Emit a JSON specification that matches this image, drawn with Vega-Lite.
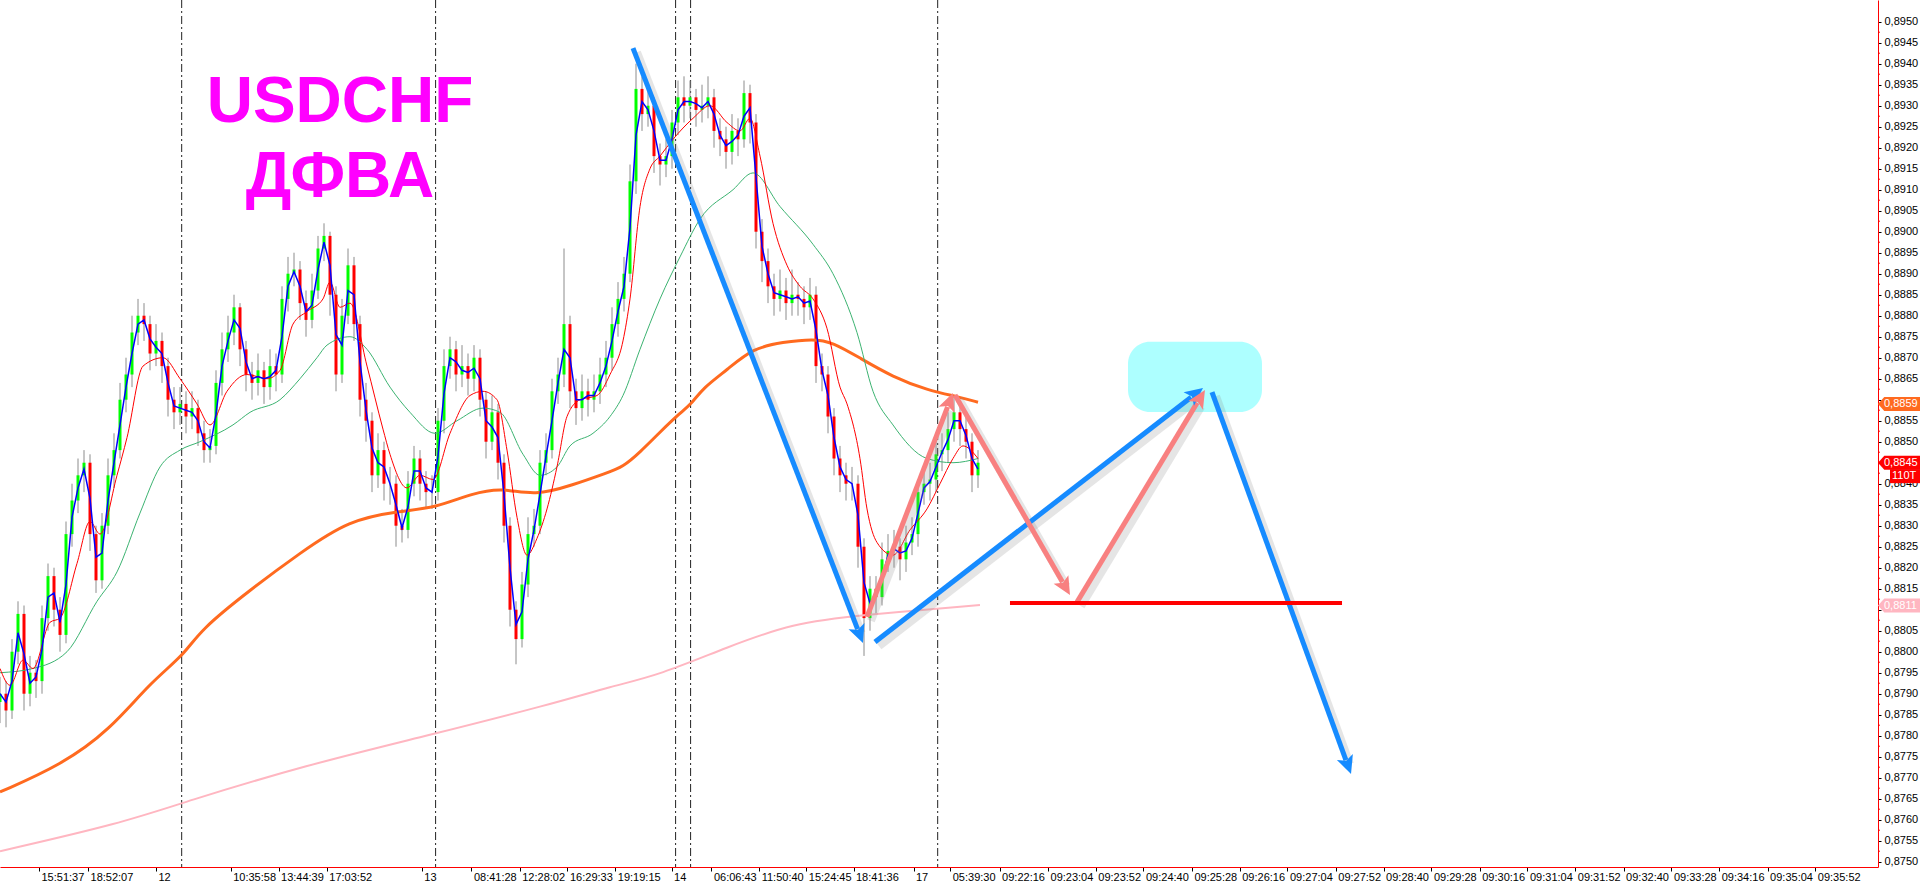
{
"$schema":"https://vega.github.io/schema/vega-lite/v6.json",
"width":1878,"height":867,
"autosize":{"type":"none"},
"padding":{"left":0,"top":0,"right":42,"bottom":20},
"background":"#FFFFFF",
"config":{"view":{"stroke":null},"font":"Liberation Sans"},
"datasets":{
"bars":[
{"x":0,"o":0.8788,"h":0.8794,"l":0.8783,"c":0.8790,"b":0.8790},
{"x":1,"o":0.8790,"h":0.8793,"l":0.8782,"c":0.8786,"b":0.8788},
{"x":2,"o":0.8786,"h":0.8803,"l":0.8784,"c":0.8800,"b":0.8793},
{"x":3,"o":0.8800,"h":0.8812,"l":0.8797,"c":0.8809,"b":0.88045},
{"x":4,"o":0.8809,"h":0.8811,"l":0.8786,"c":0.8790,"b":0.87995},
{"x":5,"o":0.8790,"h":0.8799,"l":0.8787,"c":0.8795,"b":0.87925},
{"x":6,"o":0.8795,"h":0.8798,"l":0.8789,"c":0.8793,"b":0.8794},
{"x":7,"o":0.8793,"h":0.8811,"l":0.8790,"c":0.8808,"b":0.88005},
{"x":8,"o":0.8808,"h":0.8821,"l":0.8805,"c":0.8818,"b":0.8813},
{"x":9,"o":0.8818,"h":0.8820,"l":0.8806,"c":0.8810,"b":0.8814},
{"x":10,"o":0.8810,"h":0.8813,"l":0.8800,"c":0.8804,"b":0.8807},
{"x":11,"o":0.8804,"h":0.8831,"l":0.8802,"c":0.8828,"b":0.8816},
{"x":12,"o":0.8828,"h":0.8840,"l":0.8825,"c":0.8836,"b":0.8832},
{"x":13,"o":0.8836,"h":0.8846,"l":0.8833,"c":0.8842,"b":0.8839},
{"x":14,"o":0.8842,"h":0.8848,"l":0.8838,"c":0.8845,"b":0.88435},
{"x":15,"o":0.8845,"h":0.8847,"l":0.8824,"c":0.8828,"b":0.88365},
{"x":16,"o":0.8828,"h":0.8830,"l":0.8814,"c":0.8817,"b":0.88225},
{"x":17,"o":0.8817,"h":0.8833,"l":0.8815,"c":0.8830,"b":0.88235},
{"x":18,"o":0.8830,"h":0.8846,"l":0.8828,"c":0.8842,"b":0.8836},
{"x":19,"o":0.8842,"h":0.8852,"l":0.8839,"c":0.8848,"b":0.8845},
{"x":20,"o":0.8848,"h":0.8864,"l":0.8846,"c":0.8860,"b":0.8854},
{"x":21,"o":0.8860,"h":0.8870,"l":0.8857,"c":0.8866,"b":0.8863},
{"x":22,"o":0.8866,"h":0.8880,"l":0.8863,"c":0.8876,"b":0.8871},
{"x":23,"o":0.8876,"h":0.8884,"l":0.8873,"c":0.8880,"b":0.8878},
{"x":24,"o":0.8880,"h":0.8883,"l":0.8874,"c":0.8878,"b":0.8879},
{"x":25,"o":0.8878,"h":0.8880,"l":0.8867,"c":0.8871,"b":0.88745},
{"x":26,"o":0.8871,"h":0.8878,"l":0.8868,"c":0.8874,"b":0.88725},
{"x":27,"o":0.8874,"h":0.8876,"l":0.8864,"c":0.8868,"b":0.8871},
{"x":28,"o":0.8868,"h":0.8870,"l":0.8856,"c":0.8860,"b":0.8864},
{"x":29,"o":0.8860,"h":0.8863,"l":0.8853,"c":0.8857,"b":0.88585},
{"x":30,"o":0.8857,"h":0.8863,"l":0.8854,"c":0.8859,"b":0.8858},
{"x":31,"o":0.8859,"h":0.8862,"l":0.8852,"c":0.8856,"b":0.88575},
{"x":32,"o":0.8856,"h":0.8862,"l":0.8853,"c":0.8858,"b":0.8857},
{"x":33,"o":0.8858,"h":0.8860,"l":0.8849,"c":0.8852,"b":0.8855},
{"x":34,"o":0.8852,"h":0.8855,"l":0.8845,"c":0.8848,"b":0.8850},
{"x":35,"o":0.8848,"h":0.8853,"l":0.8845,"c":0.8849,"b":0.88485},
{"x":36,"o":0.8849,"h":0.8867,"l":0.8847,"c":0.8864,"b":0.88565},
{"x":37,"o":0.8864,"h":0.8876,"l":0.8861,"c":0.8872,"b":0.8868},
{"x":38,"o":0.8872,"h":0.8880,"l":0.8869,"c":0.8876,"b":0.8874},
{"x":39,"o":0.8876,"h":0.8885,"l":0.8873,"c":0.8882,"b":0.8879},
{"x":40,"o":0.8882,"h":0.8883,"l":0.8868,"c":0.8872,"b":0.8877},
{"x":41,"o":0.8872,"h":0.8874,"l":0.8862,"c":0.8866,"b":0.8869},
{"x":42,"o":0.8866,"h":0.8869,"l":0.8860,"c":0.8864,"b":0.8865},
{"x":43,"o":0.8864,"h":0.8871,"l":0.8861,"c":0.8867,"b":0.88655},
{"x":44,"o":0.8867,"h":0.8869,"l":0.8859,"c":0.8863,"b":0.8865},
{"x":45,"o":0.8863,"h":0.8872,"l":0.8860,"c":0.8868,"b":0.88655},
{"x":46,"o":0.8868,"h":0.8871,"l":0.8862,"c":0.8866,"b":0.8867},
{"x":47,"o":0.8866,"h":0.8887,"l":0.8864,"c":0.8884,"b":0.8875},
{"x":48,"o":0.8884,"h":0.8894,"l":0.8881,"c":0.8890,"b":0.8887},
{"x":49,"o":0.8890,"h":0.8895,"l":0.8887,"c":0.8891,"b":0.88905},
{"x":50,"o":0.8891,"h":0.8893,"l":0.8879,"c":0.8883,"b":0.8887},
{"x":51,"o":0.8883,"h":0.8886,"l":0.8875,"c":0.8879,"b":0.8881},
{"x":52,"o":0.8879,"h":0.8890,"l":0.8877,"c":0.8886,"b":0.88825},
{"x":53,"o":0.8886,"h":0.8899,"l":0.8884,"c":0.8896,"b":0.8891},
{"x":54,"o":0.8896,"h":0.8902,"l":0.8893,"c":0.8899,"b":0.88975},
{"x":55,"o":0.8899,"h":0.8900,"l":0.8880,"c":0.8885,"b":0.8892},
{"x":56,"o":0.8885,"h":0.8887,"l":0.8862,"c":0.8866,"b":0.88755},
{"x":57,"o":0.8866,"h":0.8884,"l":0.8864,"c":0.8880,"b":0.8873},
{"x":58,"o":0.8880,"h":0.8896,"l":0.8878,"c":0.8892,"b":0.8886},
{"x":59,"o":0.8892,"h":0.8894,"l":0.8874,"c":0.8878,"b":0.8885},
{"x":60,"o":0.8878,"h":0.8880,"l":0.8856,"c":0.8860,"b":0.8869},
{"x":61,"o":0.8860,"h":0.8864,"l":0.8850,"c":0.8855,"b":0.88575},
{"x":62,"o":0.8855,"h":0.8857,"l":0.8838,"c":0.8842,"b":0.88485},
{"x":63,"o":0.8842,"h":0.8852,"l":0.8839,"c":0.8848,"b":0.8845},
{"x":64,"o":0.8848,"h":0.8850,"l":0.8836,"c":0.8840,"b":0.8844},
{"x":65,"o":0.8840,"h":0.8844,"l":0.8835,"c":0.8840,"b":0.8840},
{"x":66,"o":0.8840,"h":0.8842,"l":0.8825,"c":0.8830,"b":0.8835},
{"x":67,"o":0.8830,"h":0.8834,"l":0.8826,"c":0.8829,"b":0.88295},
{"x":68,"o":0.8829,"h":0.8843,"l":0.8827,"c":0.8840,"b":0.88345},
{"x":69,"o":0.8840,"h":0.8849,"l":0.8837,"c":0.8846,"b":0.8843},
{"x":70,"o":0.8846,"h":0.8848,"l":0.8836,"c":0.8840,"b":0.8843},
{"x":71,"o":0.8840,"h":0.8843,"l":0.8834,"c":0.8838,"b":0.8839},
{"x":72,"o":0.8838,"h":0.8842,"l":0.8834,"c":0.8838,"b":0.8838},
{"x":73,"o":0.8838,"h":0.8858,"l":0.8836,"c":0.8855,"b":0.88465},
{"x":74,"o":0.8855,"h":0.8872,"l":0.8852,"c":0.8868,"b":0.88615},
{"x":75,"o":0.8868,"h":0.8875,"l":0.8865,"c":0.8872,"b":0.8870},
{"x":76,"o":0.8872,"h":0.8874,"l":0.8862,"c":0.8866,"b":0.8869},
{"x":77,"o":0.8866,"h":0.8873,"l":0.8863,"c":0.8868,"b":0.8867},
{"x":78,"o":0.8868,"h":0.8871,"l":0.8861,"c":0.8865,"b":0.88665},
{"x":79,"o":0.8865,"h":0.8873,"l":0.8862,"c":0.8870,"b":0.88675},
{"x":80,"o":0.8870,"h":0.8872,"l":0.8856,"c":0.8860,"b":0.8865},
{"x":81,"o":0.8860,"h":0.8862,"l":0.8846,"c":0.8850,"b":0.8855},
{"x":82,"o":0.8850,"h":0.8861,"l":0.8848,"c":0.8857,"b":0.88535},
{"x":83,"o":0.8857,"h":0.8859,"l":0.8841,"c":0.8845,"b":0.8851},
{"x":84,"o":0.8845,"h":0.8847,"l":0.8826,"c":0.8830,"b":0.88375},
{"x":85,"o":0.8830,"h":0.8832,"l":0.8806,"c":0.8810,"b":0.8820},
{"x":86,"o":0.8810,"h":0.8812,"l":0.8797,"c":0.8803,"b":0.88065},
{"x":87,"o":0.8803,"h":0.8819,"l":0.8801,"c":0.8816,"b":0.88095},
{"x":88,"o":0.8816,"h":0.8832,"l":0.8813,"c":0.8828,"b":0.8822},
{"x":89,"o":0.8828,"h":0.8834,"l":0.8825,"c":0.8830,"b":0.8829},
{"x":90,"o":0.8830,"h":0.8848,"l":0.8828,"c":0.8845,"b":0.88375},
{"x":91,"o":0.8845,"h":0.8852,"l":0.8842,"c":0.8848,"b":0.88465},
{"x":92,"o":0.8848,"h":0.8865,"l":0.8846,"c":0.8862,"b":0.8855},
{"x":93,"o":0.8862,"h":0.8870,"l":0.8859,"c":0.8866,"b":0.8864},
{"x":94,"o":0.8866,"h":0.8896,"l":0.8863,"c":0.8878,"b":0.8872},
{"x":95,"o":0.8878,"h":0.8880,"l":0.8858,"c":0.8862,"b":0.8870},
{"x":96,"o":0.8862,"h":0.8865,"l":0.8854,"c":0.8858,"b":0.8860},
{"x":97,"o":0.8858,"h":0.8866,"l":0.8855,"c":0.8862,"b":0.8860},
{"x":98,"o":0.8862,"h":0.8865,"l":0.8856,"c":0.8860,"b":0.8861},
{"x":99,"o":0.8860,"h":0.8866,"l":0.8857,"c":0.8862,"b":0.8861},
{"x":100,"o":0.8862,"h":0.8870,"l":0.8859,"c":0.8866,"b":0.8864},
{"x":101,"o":0.8866,"h":0.8874,"l":0.8863,"c":0.8870,"b":0.8868},
{"x":102,"o":0.8870,"h":0.8882,"l":0.8867,"c":0.8878,"b":0.8874},
{"x":103,"o":0.8878,"h":0.8888,"l":0.8875,"c":0.8884,"b":0.8881},
{"x":104,"o":0.8884,"h":0.8894,"l":0.8881,"c":0.8890,"b":0.8887},
{"x":105,"o":0.8890,"h":0.8916,"l":0.8888,"c":0.8912,"b":0.8901},
{"x":106,"o":0.8912,"h":0.8940,"l":0.8909,"c":0.8934,"b":0.8923},
{"x":107,"o":0.8934,"h":0.8937,"l":0.8924,"c":0.8928,"b":0.8931},
{"x":108,"o":0.8928,"h":0.8934,"l":0.8925,"c":0.8930,"b":0.8929},
{"x":109,"o":0.8930,"h":0.8932,"l":0.8914,"c":0.8918,"b":0.8924},
{"x":110,"o":0.8918,"h":0.8921,"l":0.8911,"c":0.8916,"b":0.8917},
{"x":111,"o":0.8916,"h":0.8922,"l":0.8913,"c":0.8918,"b":0.8917},
{"x":112,"o":0.8918,"h":0.8929,"l":0.8915,"c":0.8926,"b":0.8922},
{"x":113,"o":0.8926,"h":0.8936,"l":0.8923,"c":0.8932,"b":0.8929},
{"x":114,"o":0.8932,"h":0.8937,"l":0.8926,"c":0.8930,"b":0.8931},
{"x":115,"o":0.8930,"h":0.8936,"l":0.8927,"c":0.8932,"b":0.8931},
{"x":116,"o":0.8932,"h":0.8934,"l":0.8925,"c":0.8929,"b":0.89305},
{"x":117,"o":0.8929,"h":0.8935,"l":0.8926,"c":0.8930,"b":0.89295},
{"x":118,"o":0.8930,"h":0.8937,"l":0.8927,"c":0.8932,"b":0.8931},
{"x":119,"o":0.8932,"h":0.8934,"l":0.8920,"c":0.8924,"b":0.8928},
{"x":120,"o":0.8924,"h":0.8927,"l":0.8918,"c":0.8922,"b":0.8923},
{"x":121,"o":0.8922,"h":0.8925,"l":0.8915,"c":0.8919,"b":0.89205},
{"x":122,"o":0.8919,"h":0.8928,"l":0.8916,"c":0.8924,"b":0.89215},
{"x":123,"o":0.8924,"h":0.8927,"l":0.8918,"c":0.8922,"b":0.8923},
{"x":124,"o":0.8922,"h":0.8936,"l":0.8920,"c":0.8933,"b":0.89275},
{"x":125,"o":0.8933,"h":0.8935,"l":0.8921,"c":0.8926,"b":0.89295},
{"x":126,"o":0.8926,"h":0.8928,"l":0.8896,"c":0.8900,"b":0.8913},
{"x":127,"o":0.8900,"h":0.8903,"l":0.8888,"c":0.8893,"b":0.88965},
{"x":128,"o":0.8893,"h":0.8896,"l":0.8883,"c":0.8887,"b":0.8890},
{"x":129,"o":0.8887,"h":0.8890,"l":0.8880,"c":0.8884,"b":0.88855},
{"x":130,"o":0.8884,"h":0.8891,"l":0.8881,"c":0.8886,"b":0.8885},
{"x":131,"o":0.8886,"h":0.8889,"l":0.8879,"c":0.8883,"b":0.88845},
{"x":132,"o":0.8883,"h":0.8891,"l":0.8880,"c":0.8885,"b":0.8884},
{"x":133,"o":0.8885,"h":0.8888,"l":0.8880,"c":0.8884,"b":0.88845},
{"x":134,"o":0.8884,"h":0.8887,"l":0.8878,"c":0.8882,"b":0.8883},
{"x":135,"o":0.8882,"h":0.8889,"l":0.8879,"c":0.8885,"b":0.88835},
{"x":136,"o":0.8885,"h":0.8887,"l":0.8864,"c":0.8868,"b":0.88765},
{"x":137,"o":0.8868,"h":0.8871,"l":0.8862,"c":0.8866,"b":0.8867},
{"x":138,"o":0.8866,"h":0.8868,"l":0.8852,"c":0.8856,"b":0.8861},
{"x":139,"o":0.8856,"h":0.8858,"l":0.8842,"c":0.8846,"b":0.8851},
{"x":140,"o":0.8846,"h":0.8849,"l":0.8838,"c":0.8842,"b":0.8844},
{"x":141,"o":0.8842,"h":0.8845,"l":0.8836,"c":0.8840,"b":0.8841},
{"x":142,"o":0.8840,"h":0.8844,"l":0.8836,"c":0.8840,"b":0.8840},
{"x":143,"o":0.8840,"h":0.8842,"l":0.8820,"c":0.8825,"b":0.88325},
{"x":144,"o":0.8825,"h":0.8827,"l":0.8799,"c":0.8808,"b":0.88165},
{"x":145,"o":0.8808,"h":0.8818,"l":0.8805,"c":0.8815,"b":0.88115},
{"x":146,"o":0.8815,"h":0.8818,"l":0.8809,"c":0.8813,"b":0.8814},
{"x":147,"o":0.8813,"h":0.8826,"l":0.8811,"c":0.8822,"b":0.88175},
{"x":148,"o":0.8822,"h":0.8828,"l":0.8819,"c":0.8824,"b":0.8823},
{"x":149,"o":0.8824,"h":0.8829,"l":0.8820,"c":0.8825,"b":0.88245},
{"x":150,"o":0.8825,"h":0.8827,"l":0.8817,"c":0.8822,"b":0.88235},
{"x":151,"o":0.8822,"h":0.8830,"l":0.8819,"c":0.8826,"b":0.8824},
{"x":152,"o":0.8826,"h":0.8832,"l":0.8823,"c":0.8828,"b":0.8827},
{"x":153,"o":0.8828,"h":0.8841,"l":0.8825,"c":0.8838,"b":0.8833},
{"x":154,"o":0.8838,"h":0.8844,"l":0.8835,"c":0.8840,"b":0.8839},
{"x":155,"o":0.8840,"h":0.8845,"l":0.8836,"c":0.8841,"b":0.88405},
{"x":156,"o":0.8841,"h":0.8851,"l":0.8838,"c":0.8847,"b":0.8844},
{"x":157,"o":0.8847,"h":0.8852,"l":0.8843,"c":0.8848,"b":0.88475},
{"x":158,"o":0.8848,"h":0.8857,"l":0.8845,"c":0.8853,"b":0.88505},
{"x":159,"o":0.8853,"h":0.8861,"l":0.8850,"c":0.8857,"b":0.8855},
{"x":160,"o":0.8857,"h":0.8859,"l":0.8849,"c":0.8853,"b":0.8855},
{"x":161,"o":0.8853,"h":0.8856,"l":0.8846,"c":0.8850,"b":0.88515},
{"x":162,"o":0.8850,"h":0.8852,"l":0.8838,"c":0.8842,"b":0.8846},
{"x":163,"o":0.8842,"h":0.8848,"l":0.8839,"c":0.8845,"b":0.88435}
],
"red":[
{"x":0,"y":0.8796},{"x":1.67,"y":0.8792},{"x":3.83,"y":0.8798},{"x":5.5,"y":0.8796},{"x":8.33,"y":0.8807},{"x":10,"y":0.8808},{"x":12.83,"y":0.8821},{"x":15,"y":0.8831},{"x":16.67,"y":0.8828},{"x":19.5,"y":0.8842},{"x":21.17,"y":0.8851},{"x":23.83,"y":0.8868},{"x":27.17,"y":0.8870},{"x":30,"y":0.8865},{"x":32.83,"y":0.8859},{"x":35,"y":0.8854},{"x":37.83,"y":0.8862},{"x":41.17,"y":0.8866},{"x":44.5,"y":0.8865},{"x":46.67,"y":0.8867},{"x":48.83,"y":0.8878},{"x":51.17,"y":0.8881},{"x":53.83,"y":0.8884},{"x":55,"y":0.8888},{"x":56.67,"y":0.8882},{"x":58.33,"y":0.8883},{"x":61.17,"y":0.8868},{"x":63.83,"y":0.8853},{"x":65,"y":0.8847},{"x":67.83,"y":0.8839},{"x":70,"y":0.8842},{"x":72.17,"y":0.8841},{"x":75,"y":0.8852},{"x":78.33,"y":0.8861},{"x":80.5,"y":0.8862},{"x":82.83,"y":0.8860},{"x":84.5,"y":0.8848},{"x":86.17,"y":0.8832},{"x":87.83,"y":0.8823},{"x":89.5,"y":0.8827},{"x":91.17,"y":0.8834},{"x":92.83,"y":0.8844},{"x":94.5,"y":0.8856},{"x":96.67,"y":0.8860},{"x":99.5,"y":0.8861},{"x":101.67,"y":0.8866},{"x":103.83,"y":0.8874},{"x":105,"y":0.8884},{"x":106.67,"y":0.8906},{"x":108.33,"y":0.8915},{"x":110,"y":0.8918},{"x":112.17,"y":0.8922},{"x":115.5,"y":0.8927},{"x":118.33,"y":0.8930},{"x":121.17,"y":0.8926},{"x":123.33,"y":0.8924},{"x":125,"y":0.8927},{"x":126.67,"y":0.8918},{"x":128.83,"y":0.8902},{"x":131.17,"y":0.8892},{"x":133.33,"y":0.8887},{"x":135.5,"y":0.8884},{"x":137.83,"y":0.8877},{"x":140,"y":0.8863},{"x":141.17,"y":0.8859},{"x":143.33,"y":0.8846},{"x":144.5,"y":0.8834},{"x":146.17,"y":0.8826},{"x":148.83,"y":0.8823},{"x":151.67,"y":0.8829},{"x":154.5,"y":0.8834},{"x":156.67,"y":0.8840},{"x":158.83,"y":0.8846},{"x":160.5,"y":0.8849},{"x":163,"y":0.8846}
],
"green":[
{"x":0,"y":0.8795},{"x":5.5,"y":0.8796},{"x":11.17,"y":0.8800},{"x":16.17,"y":0.8812},{"x":19.5,"y":0.8819},{"x":23.33,"y":0.8833},{"x":26.67,"y":0.8844},{"x":30,"y":0.8848},{"x":33.33,"y":0.8850},{"x":38.83,"y":0.8854},{"x":41.67,"y":0.8857},{"x":46.67,"y":0.8860},{"x":50,"y":0.8865},{"x":52.83,"y":0.8870},{"x":54.5,"y":0.8873},{"x":58.33,"y":0.8875},{"x":61.17,"y":0.8872},{"x":65,"y":0.8863},{"x":68.33,"y":0.8857},{"x":72.5,"y":0.8852},{"x":76.17,"y":0.8855},{"x":80.5,"y":0.8858},{"x":83.33,"y":0.8857},{"x":87.17,"y":0.8847},{"x":90,"y":0.8842},{"x":92.83,"y":0.8844},{"x":95,"y":0.8849},{"x":98.83,"y":0.8852},{"x":101.67,"y":0.8856},{"x":103.83,"y":0.8861},{"x":106.67,"y":0.8872},{"x":110,"y":0.8884},{"x":113.33,"y":0.8894},{"x":116.67,"y":0.8903},{"x":122.17,"y":0.8910},{"x":125.5,"y":0.8914},{"x":130,"y":0.8906},{"x":135.5,"y":0.8897},{"x":138.83,"y":0.8890},{"x":142.83,"y":0.8876},{"x":145.5,"y":0.8862},{"x":148.83,"y":0.8854},{"x":154.5,"y":0.8846},{"x":158.83,"y":0.8845},{"x":163,"y":0.8846}
],
"orange":[
{"x":0,"y":0.87666},{"x":10.17,"y":0.8773},{"x":18.33,"y":0.87814},{"x":25,"y":0.87926},{"x":30.67,"y":0.87992},{"x":33.33,"y":0.88051},{"x":41.67,"y":0.88147},{"x":50,"y":0.88235},{"x":58.17,"y":0.88314},{"x":66.67,"y":0.88335},{"x":72.5,"y":0.88342},{"x":78.83,"y":0.88378},{"x":83.83,"y":0.8839},{"x":89.17,"y":0.88371},{"x":95.5,"y":0.88397},{"x":101.17,"y":0.88426},{"x":103.83,"y":0.8844},{"x":106.67,"y":0.88475},{"x":110,"y":0.88523},{"x":113.33,"y":0.88568},{"x":115.5,"y":0.88594},{"x":117.17,"y":0.88628},{"x":121.17,"y":0.88671},{"x":125.5,"y":0.88723},{"x":130.5,"y":0.88737},{"x":135.5,"y":0.88745},{"x":138.83,"y":0.88737},{"x":143.33,"y":0.88699},{"x":148.83,"y":0.88654},{"x":154.5,"y":0.88623},{"x":160,"y":0.88606},{"x":163,"y":0.88594}
],
"pink":[
{"x":0,"y":0.87525},{"x":20.33,"y":0.87592},{"x":30.67,"y":0.87642},{"x":51,"y":0.8773},{"x":71.5,"y":0.87801},{"x":91.83,"y":0.87875},{"x":102,"y":0.87918},{"x":110,"y":0.87945},{"x":121.17,"y":0.88011},{"x":132.17,"y":0.88068},{"x":143.33,"y":0.88087},{"x":163.33,"y":0.88111}
],
"minor":[
{"x":313,"y":0.87525},{"x":313,"y":0.87575},{"x":313,"y":0.87625},{"x":313,"y":0.87675},{"x":313,"y":0.87725},{"x":313,"y":0.87775},{"x":313,"y":0.87825},{"x":313,"y":0.87875},{"x":313,"y":0.87925},{"x":313,"y":0.87975},{"x":313,"y":0.88025},{"x":313,"y":0.88075},{"x":313,"y":0.88125},{"x":313,"y":0.88175},{"x":313,"y":0.88225},{"x":313,"y":0.88275},{"x":313,"y":0.88325},{"x":313,"y":0.88375},{"x":313,"y":0.88425},{"x":313,"y":0.88475},{"x":313,"y":0.88525},{"x":313,"y":0.88575},{"x":313,"y":0.88625},{"x":313,"y":0.88675},{"x":313,"y":0.88725},{"x":313,"y":0.88775},{"x":313,"y":0.88825},{"x":313,"y":0.88875},{"x":313,"y":0.88925},{"x":313,"y":0.88975},{"x":313,"y":0.89025},{"x":313,"y":0.89075},{"x":313,"y":0.89125},{"x":313,"y":0.89175},{"x":313,"y":0.89225},{"x":313,"y":0.89275},{"x":313,"y":0.89325},{"x":313,"y":0.89375},{"x":313,"y":0.89425},{"x":313,"y":0.89475}
],
"vlines":[{"x":30.28},{"x":72.6},{"x":112.6},{"x":115.1},{"x":156.28}],
"titles":[{"x":56.67,"y":0.89261,"t":"USDCHF"},{"x":56.67,"y":0.89083,"t":"ДФВА"}],
"zone":[{"x":188,"x2":210.33,"y":0.88738,"y2":0.88571}],
"level":[{"x":168.33,"x2":223.67,"y":0.88116}],
"arrows":[
{"x":105.5,"y":0.89437,"x2":142.93,"y2":0.88054,"col":"#168BFF"},
{"x":145.83,"y":0.88023,"x2":198.52,"y2":0.88606,"col":"#168BFF"},
{"x":202,"y":0.88618,"x2":224.32,"y2":0.87742,"col":"#168BFF"},
{"x":144.5,"y":0.88083,"x2":157.93,"y2":0.88583,"col":"#F88080"},
{"x":159.17,"y":0.88611,"x2":177.08,"y2":0.88166,"col":"#F88080"},
{"x":179.5,"y":0.88118,"x2":199.53,"y2":0.88593,"col":"#F88080"}
],
"heads":[
{"x":143.83,"y":0.88021,"a":158.9,"col":"#168BFF"},
{"x":200.5,"y":0.88628,"a":52.2,"col":"#168BFF"},
{"x":225.17,"y":0.87709,"a":160,"col":"#168BFF"},
{"x":158.83,"y":0.88616,"a":21,"col":"#F88080"},
{"x":178.33,"y":0.88135,"a":150.1,"col":"#F88080"},
{"x":200.83,"y":0.88623,"a":31.1,"col":"#F88080"}
],
"tags":[
{"x":313,"y":0.8859,"col":"#FF6A1F","t":"0,8859"},
{"x":313,"y":0.8845,"col":"#FF0000","t":"0,8845"},
{"x":313,"y":0.8811,"col":"#FFB6C1","t":"0,8811"}
],
"tags2":[{"x":313,"y":0.88418,"col":"#FF0000","t":"110T"}]
},
"encoding":{"x":{"field":"x","type":"quantitative","scale":{"domain":[0,313],"nice":false,"zero":false},
"axis":{"orient":"bottom","title":null,"grid":false,"domainColor":"#FF0000","domainWidth":1,"tickColor":"#000000","tickSize":4,"labelAlign":"left","labelBaseline":"top","labelOffset":2,"labelPadding":0,"labelFontSize":11,"labelFont":"Liberation Sans","labelColor":"#000000","labelOverlap":false,"labelFlush":false,"labelBound":false,
"values":[6.5,14.67,26,38.45,46.42,54.47,70.3,78.57,86.62,94.58,102.55,111.93,118.57,126.53,134.38,142.25,152.25,158.37,166.6,174.67,182.63,190.58,198.65,206.62,214.58,222.63,230.6,238.57,246.62,254.58,262.55,270.6,278.57,286.53,294.6,302.55],
"labelExpr":"['15:51:37','18:52:07','12','10:35:58','13:44:39','17:03:52','13','08:41:28','12:28:02','16:29:33','19:19:15','14','06:06:43','11:50:40','15:24:45','18:41:36','17','05:39:30','09:22:16','09:23:04','09:23:52','09:24:40','09:25:28','09:26:16','09:27:04','09:27:52','09:28:40','09:29:28','09:30:16','09:31:04','09:31:52','09:32:40','09:33:28','09:34:16','09:35:04','09:35:52'][indexof([6.5,14.67,26,38.45,46.42,54.47,70.3,78.57,86.62,94.58,102.55,111.93,118.57,126.53,134.38,142.25,152.25,158.37,166.6,174.67,182.63,190.58,198.65,206.62,214.58,222.63,230.6,238.57,246.62,254.58,262.55,270.6,278.57,286.53,294.6,302.55],datum.value)]"}},
"y":{"field":"y","type":"quantitative","scale":{"domain":[0.874874,0.895517],"nice":false,"zero":false},
"axis":{"orient":"right","title":null,"grid":false,"domainColor":"#FF0000","domainWidth":1,"tickColor":"#000000","tickSize":3,"labelPadding":3,"labelFontSize":11,"labelFont":"Liberation Sans","labelColor":"#000000","labelOverlap":false,"labelFlush":false,"labelBound":false,
"values":[0.875,0.8755,0.876,0.8765,0.877,0.8775,0.878,0.8785,0.879,0.8795,0.88,0.8805,0.881,0.8815,0.882,0.8825,0.883,0.8835,0.884,0.8845,0.885,0.8855,0.886,0.8865,0.887,0.8875,0.888,0.8885,0.889,0.8895,0.89,0.8905,0.891,0.8915,0.892,0.8925,0.893,0.8935,0.894,0.8945,0.895],
"labelExpr":"indexof([0.886,0.8845,0.881], datum.value) >= 0 ? '' : replace(format(datum.value,'.4f'),'.',',')"}}},
"layer":[
{"data":{"name":"titles"},"mark":{"type":"text","font":"Liberation Sans","fontSize":64,"fontWeight":"bold","color":"#FF00FF","align":"center","baseline":"alphabetic"},
"encoding":{"text":{"field":"t"}}},
{"data":{"name":"vlines"},"mark":{"type":"rule","color":"#222222","strokeWidth":1,"strokeDash":[8,3,2,3]},"encoding":{"y":null}},
{"data":{"name":"bars"},"mark":{"type":"rule","color":"#8C8C8C","strokeWidth":1},
"encoding":{"y":{"field":"l","type":"quantitative"},"y2":{"field":"h"}}},
{"data":{"name":"bars"},"mark":{"type":"rule","strokeWidth":3},
"encoding":{"y":{"field":"o","type":"quantitative"},"y2":{"field":"c"},
"color":{"condition":{"test":"datum.c >= datum.o","value":"#00FF00"},"value":"#FF0000"}}},
{"data":{"name":"pink"},"mark":{"type":"line","color":"#FFB6C1","strokeWidth":2,"interpolate":"basis"},"encoding":{}},
{"data":{"name":"orange"},"mark":{"type":"line","color":"#FF6A1F","strokeWidth":3,"interpolate":"basis"},"encoding":{}},
{"data":{"name":"green"},"mark":{"type":"line","color":"#3CB371","strokeWidth":1,"interpolate":"monotone"},"encoding":{}},
{"data":{"name":"red"},"mark":{"type":"line","color":"#FF0000","strokeWidth":1,"interpolate":"monotone"},"encoding":{}},
{"data":{"name":"bars"},"mark":{"type":"line","color":"#0000FF","strokeWidth":1.5},
"encoding":{"y":{"field":"b","type":"quantitative"}}},
{"data":{"name":"zone"},"mark":{"type":"rect","color":"#ADFFFF","cornerRadius":22},
"encoding":{"x2":{"field":"x2"},"y2":{"field":"y2"}}},
{"data":{"name":"arrows"},"mark":{"type":"rule","color":"#8A8A8A","opacity":0.22,"strokeWidth":8,"xOffset":4,"x2Offset":4,"yOffset":4,"y2Offset":4},
"encoding":{"x2":{"field":"x2"},"y2":{"field":"y2"}}},
{"data":{"name":"arrows"},"mark":{"type":"rule","strokeWidth":5},
"encoding":{"x2":{"field":"x2"},"y2":{"field":"y2"},"color":{"field":"col","type":"nominal","scale":null}}},
{"data":{"name":"heads"},"mark":{"type":"point","shape":"M0,0 L-0.85,1.8 L0,1.4 L0.85,1.8 Z","size":400,"filled":true,"opacity":1,"strokeWidth":0},
"encoding":{"angle":{"field":"a","type":"quantitative","scale":null},"color":{"field":"col","type":"nominal","scale":null}}},
{"data":{"name":"level"},"mark":{"type":"rule","color":"#FF0000","strokeWidth":4},
"encoding":{"x2":{"field":"x2"}}},
{"data":{"name":"minor"},"mark":{"type":"point","shape":"M0,0 L1,0","size":16,"filled":false,"color":"#FF0000","strokeWidth":1,"opacity":1},"encoding":{}},
{"data":{"name":"tags"},"mark":{"type":"point","shape":"M0,0 L0.9,-1 L7,-1 L7,1 L0.9,1 Z","size":196,"filled":true,"opacity":1,"strokeWidth":0},
"encoding":{"color":{"field":"col","type":"nominal","scale":null}}},
{"data":{"name":"tags2"},"mark":{"type":"point","shape":"M0,-1 L4.5,-1 L4.5,1 L0,1 Z","size":196,"filled":true,"opacity":1,"strokeWidth":0,"xOffset":12},
"encoding":{"color":{"field":"col","type":"nominal","scale":null}}},
{"data":{"name":"tags"},"mark":{"type":"text","color":"#FFFFFF","fontSize":11,"font":"Liberation Sans","align":"left","baseline":"middle","dx":6},
"encoding":{"text":{"field":"t"}}},
{"data":{"name":"tags2"},"mark":{"type":"text","color":"#FFFFFF","fontSize":11,"font":"Liberation Sans","align":"left","baseline":"middle","dx":14},
"encoding":{"text":{"field":"t"}}}
]
}
